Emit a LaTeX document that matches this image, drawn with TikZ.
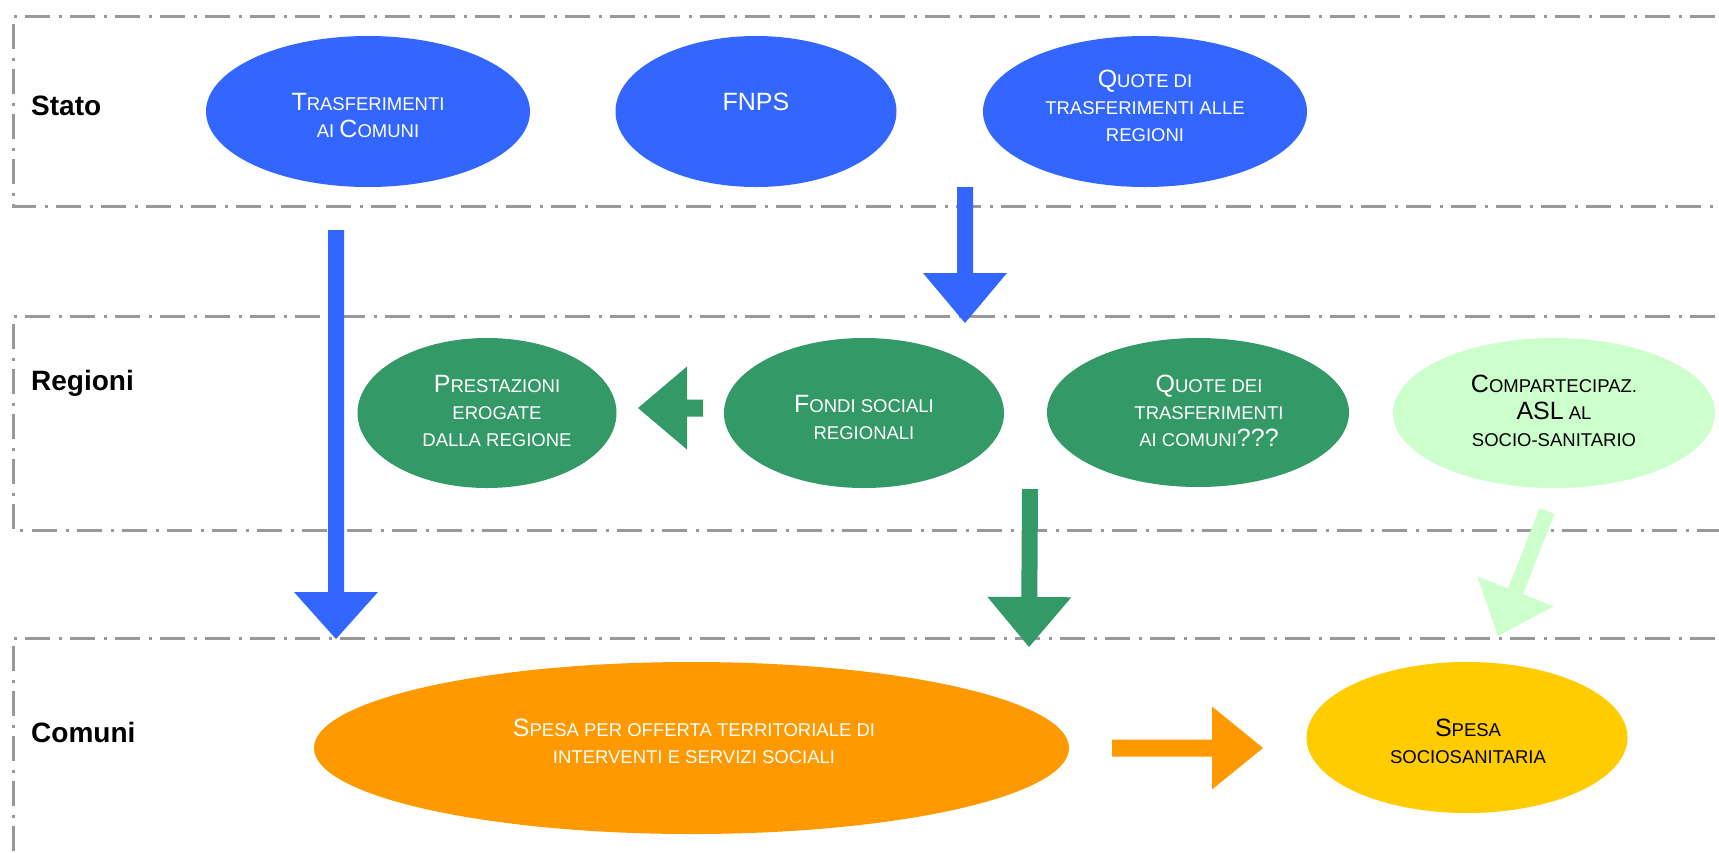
\documentclass[tikz,border=0pt]{standalone}
\usepackage{fontspec}
\setmainfont{Liberation Sans}
\usetikzlibrary{shapes.geometric,calc}
\definecolor{cblue}{HTML}{3366FF}
\definecolor{cgreen}{HTML}{339966}
\definecolor{clight}{HTML}{CCFFCC}
\definecolor{corange}{HTML}{FF9900}
\definecolor{cyellow}{HTML}{FFCC00}
\definecolor{cframe}{HTML}{999999}
\newcommand\Bg[1]{{\fontsize{25}{27}\selectfont #1}}
% #1 tail, #2 tip, #3 shaft half width, #4 head half width, #5 head length, #6 colour
\newcommand\blockarr[6]{%
  \coordinate (#1-b) at ($(#2)!#5!(#1)$);
  \fill[#6] ($(#1)!#3!90:(#2)$) -- ($(#1-b)!#3!90:(#2)$) -- ($(#1-b)!#4!90:(#2)$)
    -- (#2) -- ($(#1-b)!#4!-90:(#2)$) -- ($(#1-b)!#3!-90:(#2)$)
    -- ($(#1)!#3!-90:(#2)$) -- cycle;}
\begin{document}
\begin{tikzpicture}[x=1pt,y=-1pt,
  frame/.style={draw=cframe, line width=3pt, dash pattern=on 25pt off 8.5pt on 3pt off 8.5pt},
  lab/.style={font=\fontsize{28}{30}\selectfont\bfseries, inner sep=0, anchor=base west},
  oval/.style={ellipse, inner sep=0, draw=none},
  txt/.style={text=white, align=center, font=\fontsize{18.5}{27}\selectfont, inner sep=0, anchor=base},
  txtb/.style={txt, text=black}]
\fill[white] (0,0) rectangle (1719,852);
\useasboundingbox (0,0) rectangle (1719,852);
\begin{scope}
\clip (0,0) rectangle (1719,852);
\draw[frame] (1760,16) -- (13,16) -- (13,206) -- (1760,206);
\draw[frame] (1760,316) -- (13,316) -- (13,530) -- (1760,530);
\draw[frame] (1760,638) -- (13,638) -- (13,900);
\end{scope}

\node[lab] (lstato) at (31,115) {Stato};
\node[lab] (lregioni) at (31,390) {Regioni};
\node[lab] (lcomuni) at (31,742) {Comuni};

% Stato (text anchors = baseline of the last line)
\node[oval, fill=cblue, minimum width=324, minimum height=151] (trasf) at (368,111.5) {};
\node[oval, fill=cblue, minimum width=281, minimum height=151] (fnps) at (756,111.5) {};
\node[oval, fill=cblue, minimum width=324, minimum height=151] (quotereg) at (1145,111.5) {};
\node[txt] (ttrasf) at (368,137) {\Bg{T}RASFERIMENTI\\AI \Bg{C}OMUNI};
\node[txt] (tfnps) at (756,110) {\Bg{FNPS}};
\node[txt] (tquotereg) at (1145,141) {\Bg{Q}UOTE DI\\TRASFERIMENTI ALLE\\REGIONI};

% Regioni
\node[oval, fill=cgreen, minimum width=259, minimum height=150] (prest) at (487,413) {};
\node[oval, fill=cgreen, minimum width=280, minimum height=150] (fondi) at (864,413) {};
\node[oval, fill=cgreen, minimum width=302, minimum height=149] (quotecom) at (1198,412.5) {};
\node[oval, fill=clight, minimum width=322, minimum height=150] (compart) at (1554,413) {};
\node[txt] (tprest) at (497,446) {\Bg{P}RESTAZIONI\\EROGATE\\DALLA REGIONE};
\node[txt] (tfondi) at (864,439) {\Bg{F}ONDI SOCIALI\\REGIONALI};
\node[txt] (tquotecom) at (1209,446) {\Bg{Q}UOTE DEI\\TRASFERIMENTI\\AI COMUNI\Bg{???}};
\node[txtb] (tcompart) at (1554,446) {\Bg{C}OMPARTECIPAZ.\\\Bg{ASL} AL\\SOCIO-SANITARIO};

% Comuni
\node[oval, fill=corange, minimum width=755, minimum height=172] (spesa) at (691.5,748) {};
\node[oval, fill=cyellow, minimum width=321, minimum height=151] (spesasan) at (1467,737.5) {};
\node[txt] (tspesa) at (694,763) {\Bg{S}PESA PER OFFERTA TERRITORIALE DI\\INTERVENTI E SERVIZI SOCIALI};
\node[txtb] (tspesasan) at (1468,763) {\Bg{S}PESA\\SOCIOSANITARIA};

% arrows
\coordinate (aT) at (336,230);   \coordinate (aH) at (336,639);
\coordinate (bT) at (965,187);   \coordinate (bH) at (965,323);
\coordinate (cT) at (703,408);   \coordinate (cH) at (638,408);
\coordinate (dT) at (1030,489);  \coordinate (dH) at (1029,647);
\coordinate (eT) at (1547,511);  \coordinate (eH) at (1498,636);
\coordinate (fT) at (1112,748);  \coordinate (fH) at (1263,748);
\blockarr{aT}{aH}{8pt}{42pt}{47pt}{cblue}
\blockarr{bT}{bH}{8pt}{42pt}{50pt}{cblue}
\blockarr{cT}{cH}{8.5pt}{41.5pt}{49pt}{cgreen}
\blockarr{dT}{dH}{8pt}{42pt}{50pt}{cgreen}
\blockarr{eT}{eH}{8pt}{41pt}{48pt}{clight}
\blockarr{fT}{fH}{8.5pt}{41.5pt}{51pt}{corange}
\end{tikzpicture}
\end{document}
